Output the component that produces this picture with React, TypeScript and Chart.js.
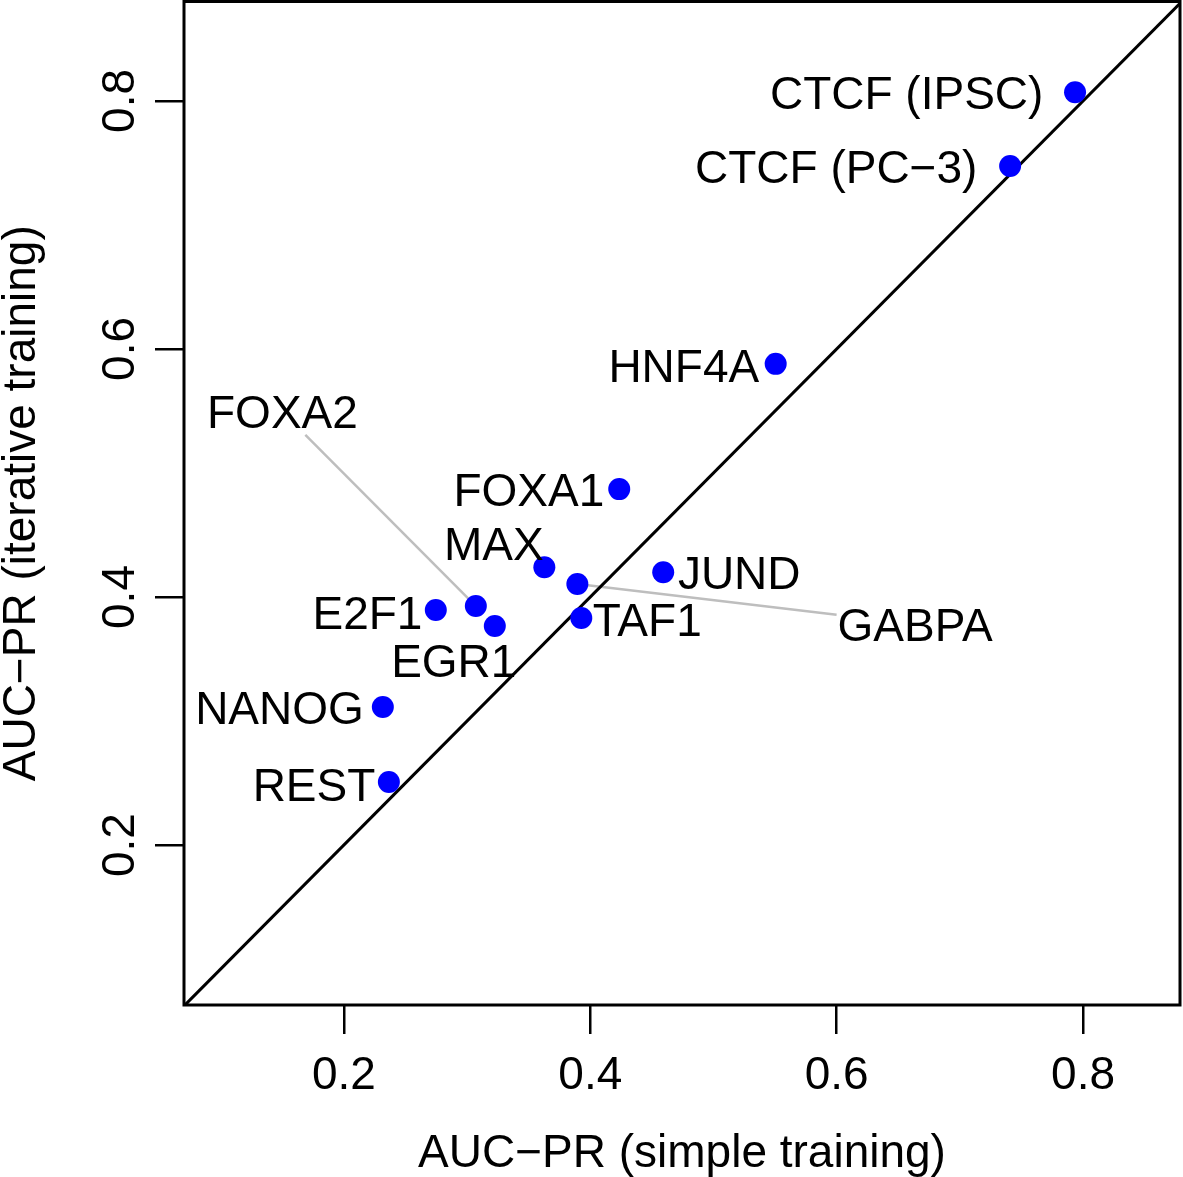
import React, { useEffect, useRef } from "react";
import { Chart, registerables } from "chart.js";

Chart.register(...registerables);

// ---- Data ----
const geneNames = [
  "CTCF (IPSC)",
  "CTCF (PC\u22123)",
  "HNF4A",
  "FOXA1",
  "MAX",
  "JUND",
  "GABPA",
  "TAF1",
  "FOXA2",
  "E2F1",
  "EGR1",
  "NANOG",
  "REST",
];
const simpleTraining = [0.7935, 0.7408, 0.5505, 0.4235, 0.3627, 0.4592, 0.3895, 0.3927, 0.3071, 0.2746, 0.3225, 0.2316, 0.2365];
const iterativeTraining = [0.807, 0.7476, 0.588, 0.487, 0.424, 0.42, 0.4105, 0.383, 0.3927, 0.3895, 0.3766, 0.3113, 0.2508];
// label centres, in data units
const labelX = [0.6568, 0.5996, 0.4759, 0.3501, 0.3217, 0.5209, 0.6637, 0.4462, 0.1501, 0.2191, 0.2892, 0.1477, 0.1757];
const labelY = [0.8065, 0.7468, 0.5863, 0.4863, 0.4435, 0.4194, 0.3782, 0.3815, 0.5492, 0.3879, 0.3492, 0.3105, 0.2492];
const hasLeader = [false, false, false, false, false, false, true, false, true, false, false, false, false];

const tickValues = [0.2, 0.4, 0.6, 0.8];
const tickLabels = ["0.2", "0.4", "0.6", "0.8"];
const diagonal = [0, 1];

const xTitle = "AUC\u2212PR (simple training)";
const yTitle = "AUC\u2212PR (iterative training)";

const FONT = '46px "Liberation Sans", Arial, Helvetica, sans-serif';

const annotPlugin = {
  id: "annot",
  beforeDatasetsDraw(chart: any) {
    const { ctx, scales } = chart;
    const x = scales.x, y = scales.y;
    ctx.save();
    ctx.font = FONT;
    ctx.strokeStyle = "#BEBEBE";
    ctx.lineWidth = 2.5;
    geneNames.forEach((name, i) => {
      if (!hasLeader[i]) return;
      const px = x.getPixelForValue(simpleTraining[i]);
      const py = y.getPixelForValue(iterativeTraining[i]);
      const cx = x.getPixelForValue(labelX[i]);
      const cy = y.getPixelForValue(labelY[i]);
      const hw = ctx.measureText(name).width / 2 + 1;
      const hh = 23;
      const dx = px - cx, dy = py - cy;
      const t = Math.min(hw / Math.abs(dx || 1e-9), hh / Math.abs(dy || 1e-9));
      ctx.beginPath();
      ctx.moveTo(px, py);
      ctx.lineTo(cx + dx * t, cy + dy * t);
      ctx.stroke();
    });
    ctx.restore();
  },
  afterDatasetsDraw(chart: any) {
    const { ctx, scales } = chart;
    const x = scales.x, y = scales.y;
    ctx.save();
    ctx.font = FONT;
    ctx.fillStyle = "#000";
    ctx.textAlign = "center";
    ctx.textBaseline = "alphabetic";
    geneNames.forEach((name, i) => {
      const cx = x.getPixelForValue(labelX[i]);
      const cy = y.getPixelForValue(labelY[i]);
      ctx.fillText(name, cx, cy + 16.5);
    });
    ctx.restore();
  },
  afterDraw(chart: any) {
    const { ctx, chartArea, scales } = chart;
    const x = scales.x, y = scales.y;
    ctx.save();
    // box
    ctx.strokeStyle = "#000";
    ctx.lineWidth = 3;
    ctx.strokeRect(chartArea.left, chartArea.top, chartArea.right - chartArea.left, chartArea.bottom - chartArea.top);
    ctx.font = FONT;
    ctx.fillStyle = "#000";
    ctx.textAlign = "center";
    ctx.textBaseline = "alphabetic";
    // x tick labels
    tickValues.forEach((v, i) => {
      ctx.fillText(tickLabels[i], x.getPixelForValue(v), 1089);
    });
    // x title
    ctx.fillText(xTitle, (chartArea.left + chartArea.right) / 2, 1167);
    // y tick labels (rotated)
    tickValues.forEach((v, i) => {
      ctx.save();
      ctx.translate(134, y.getPixelForValue(v));
      ctx.rotate(-Math.PI / 2);
      ctx.fillText(tickLabels[i], 0, 0);
      ctx.restore();
    });
    // y title
    ctx.save();
    ctx.translate(35, (chartArea.top + chartArea.bottom) / 2);
    ctx.rotate(-Math.PI / 2);
    ctx.fillText(yTitle, 0, 0);
    ctx.restore();
    ctx.restore();
  },
};

export default function App() {
  const canvasRef = useRef<HTMLCanvasElement | null>(null);

  useEffect(() => {
    if (!canvasRef.current) return;
    const chart = new Chart(canvasRef.current, {
      type: "scatter",
      data: {
        datasets: [
          {
            type: "scatter",
            data: simpleTraining.map((v, i) => ({ x: v, y: iterativeTraining[i] })),
            backgroundColor: "#0000FF",
            borderWidth: 0,
            pointRadius: 11,
            pointHoverRadius: 11,
            order: 0,
          },
          {
            type: "line",
            data: diagonal.map((v) => ({ x: v, y: v })),
            borderColor: "#000",
            borderWidth: 3,
            pointRadius: 0,
            fill: false,
            order: 1,
          } as any,
        ],
      },
      options: {
        responsive: false,
        animation: false,
        events: [],
        layout: { autoPadding: false, padding: { top: 1.5, right: 3, left: 0, bottom: 0 } },
        plugins: {
          legend: { display: false },
          tooltip: { enabled: false },
        },
        scales: {
          x: {
            type: "linear",
            min: 0.0702,
            max: 0.8787,
            border: { display: false },
            grid: { drawOnChartArea: false, drawTicks: true, tickLength: 29, color: "#000", lineWidth: 2.5 },
            ticks: { display: false },
            afterBuildTicks: (s: any) => {
              s.ticks = tickValues.map((v) => ({ value: v }));
            },
            afterFit: (s: any) => {
              s.height = 172;
            },
          },
          y: {
            type: "linear",
            min: 0.071,
            max: 0.8802,
            border: { display: false },
            grid: { drawOnChartArea: false, drawTicks: true, tickLength: 29, color: "#000", lineWidth: 2.5 },
            ticks: { display: false },
            afterBuildTicks: (s: any) => {
              s.ticks = tickValues.map((v) => ({ value: v }));
            },
            afterFit: (s: any) => {
              s.width = 184;
            },
          },
        },
      } as any,
      plugins: [annotPlugin],
    });
    return () => chart.destroy();
  }, []);

  return (
    <div style={{ position: "absolute", left: 0, top: 0, width: 1183, height: 1177, background: "#fff" }}>
      <canvas ref={canvasRef} width={1183} height={1177} style={{ display: "block" }} />
    </div>
  );
}
